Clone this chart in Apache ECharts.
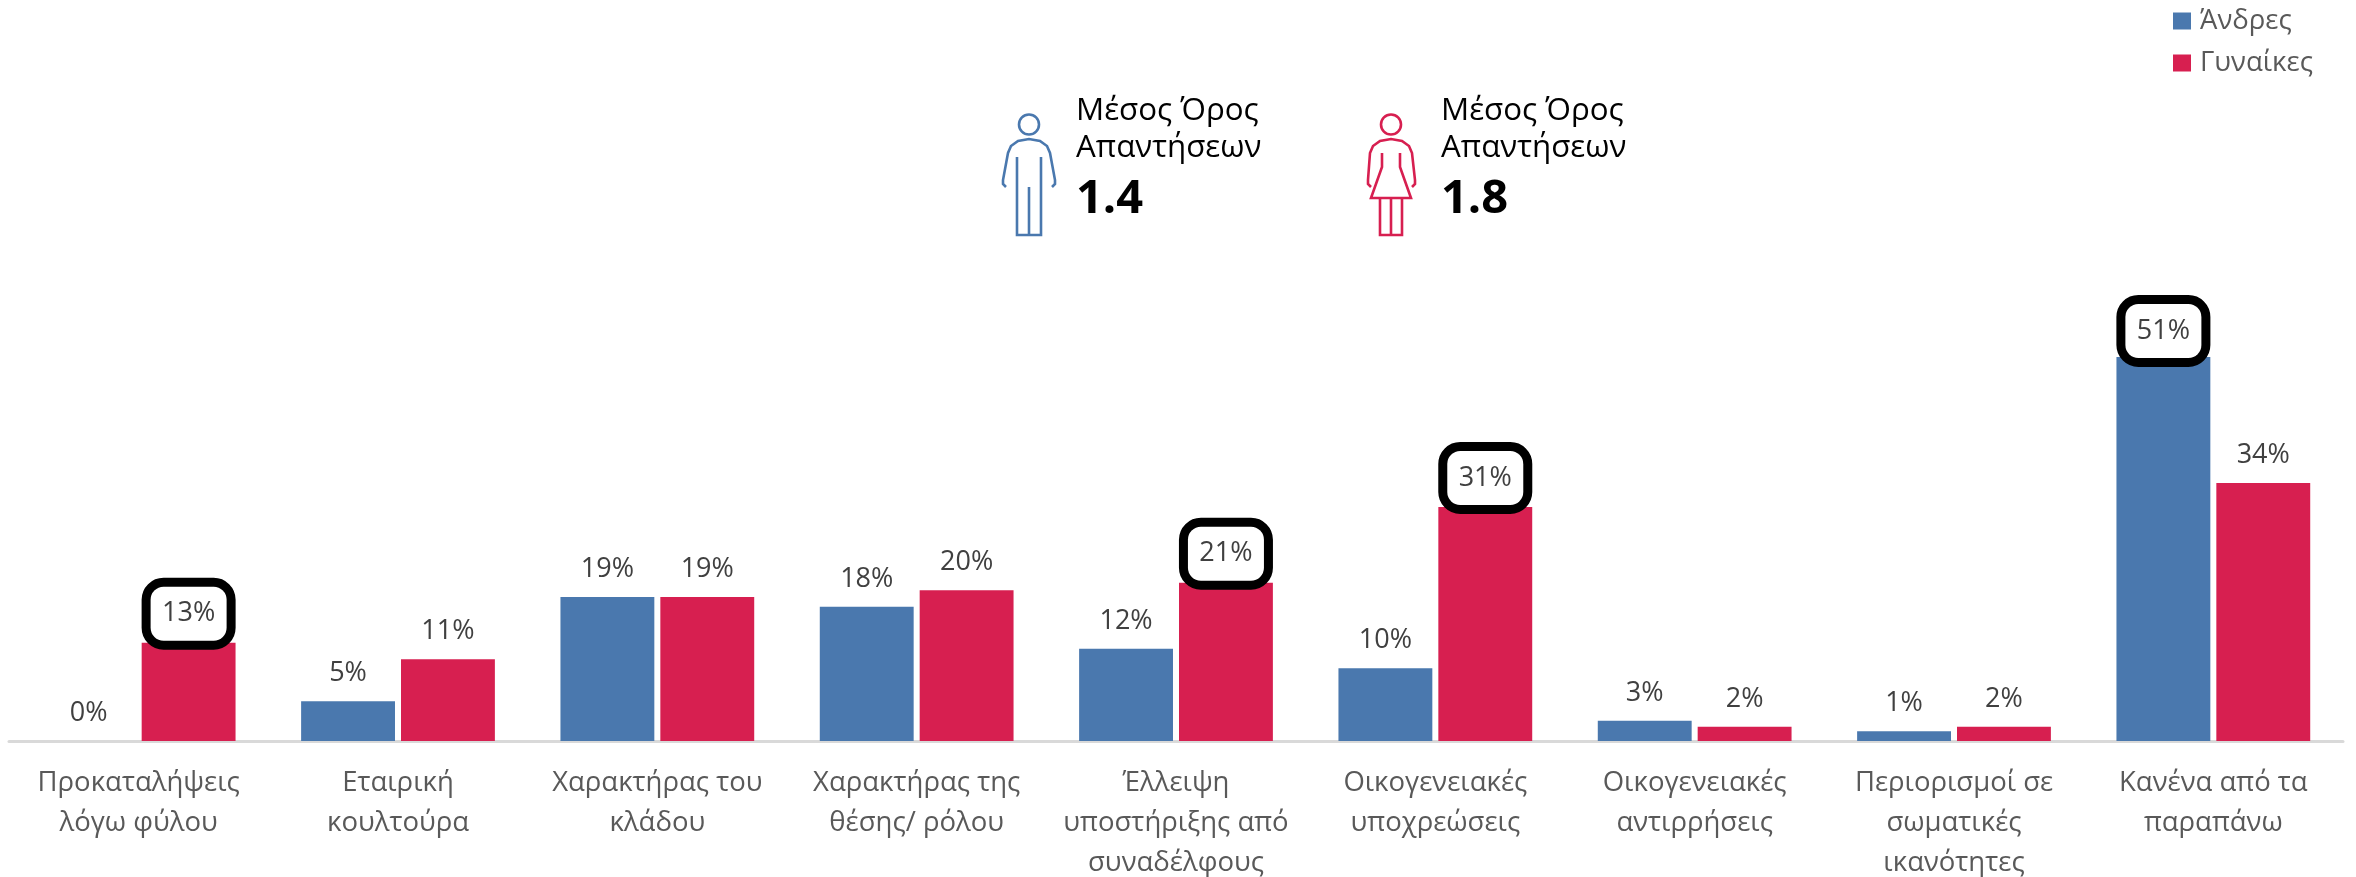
<!DOCTYPE html>
<html><head><meta charset="utf-8">
<style>html,body{margin:0;padding:0;background:#fff}#c{width:2356px;height:877px}</style>
<script src="https://cdn.jsdelivr.net/npm/echarts@6/dist/echarts.min.js"></script>
</head><body><div id="c"></div>
<script>
const categories = ['Προκαταλήψεις\nλόγω φύλου','Εταιρική\nκουλτούρα','Χαρακτήρας του\nκλάδου','Χαρακτήρας της\nθέσης/ ρόλου','Έλλειψη\nυποστήριξης από\nσυναδέλφους','Οικογενειακές\nυποχρεώσεις','Οικογενειακές\nαντιρρήσεις','Περιορισμοί σε\nσωματικές\nικανότητες','Κανένα από τα\nπαραπάνω'];
const men = [0,5.3,19.2,17.9,12.3,9.7,2.7,1.3,51.2];
const women = [13.1,10.9,19.2,20.1,21.1,31.2,1.9,1.9,34.4];
const menHighlighted = [8];
const womenHighlighted = [0,4,5];
const seriesNames = ['Άνδρες','Γυναίκες'];
const avgTitle = 'Μέσος Όρος\nΑπαντήσεων';
const avgMen = '1.4';
const avgWomen = '1.8';

const FONT = '"Open Sans"';
const BLUE = '#4a78ae', RED = '#d71f50', GREY = '#595959', DARK = '#404040';
const boxLabel = d => ({borderColor:'#000',borderWidth:9,borderRadius:13,backgroundColor:'#fff',
  width:76,height:54,lineHeight:54,align:'center',distance:d,color:DARK});
const toData = (vals, hl, d) => vals.map((v,i)=> hl.includes(i) ? {value:v,label:boxLabel(d)} : v);
const barSeries = (name, vals, hl, color, d) => ({
  name, type:'bar', barWidth:'36.2%', barGap:'6.4%', data:toData(vals,hl,d),
  itemStyle:{color},
  label:{show:true,position:'top',distance:14,formatter:p=>Math.round(p.value)+'%',fontFamily:FONT,fontSize:27,color:DARK}
});
const stroke = c => ({fill:'none',stroke:c,lineWidth:2.6});
const poly = (points,c)=>({type:'polyline',shape:{points},style:stroke(c)});
const head = (cx,c)=>({type:'circle',shape:{cx,cy:124.5,r:10},style:stroke(c)});
const manIcon = c => [head(1029,c),
  poly([[1006,187],[1003,184],[1003,180],[1008,153],[1011,146],[1018,141],[1029,139],[1040,141],[1047,146],[1050,153],[1055,180],[1055,184],[1052,187]],c),
  poly([[1017,157],[1017,235],[1041,235],[1041,157]],c),
  poly([[1029,187],[1029,235]],c)];
const womanIcon = c => [head(1391,c),
  poly([[1371,187],[1368,184],[1368,180],[1370,153],[1373,146],[1380,141],[1391,139],[1402,141],[1409,146],[1412,153],[1415,180],[1415,184],[1412,187]],c),
  poly([[1382,153],[1382,167],[1371,198],[1411,198],[1400,167],[1400,153]],c),
  poly([[1380,198],[1380,235],[1402,235],[1402,198]],c),
  poly([[1391,198],[1391,235]],c)];
const txt = (x,y,text,size,weight,lh)=>({type:'text',x,y,style:{text,fontFamily:FONT,fontSize:size,fontWeight:weight,fill:'#000',lineHeight:lh}});

const chart = echarts.init(document.getElementById('c'),null,{renderer:'canvas'});
chart.setOption({
  animation:false,
  backgroundColor:'#fff',
  grid:{left:9,width:2334,top:291,height:450,outerBoundsMode:'none'},
  legend:{orient:'vertical',left:2168,top:2,itemWidth:18,itemHeight:17,itemGap:14,
    icon:'rect',data:seriesNames,textStyle:{fontFamily:FONT,fontSize:27.5,color:GREY,lineHeight:28,padding:[0,0,0,4]}},
  xAxis:{type:'category',data:categories,
    axisLine:{lineStyle:{color:'#d9d9d9',width:3}},axisTick:{show:false},
    axisLabel:{interval:0,fontFamily:FONT,fontSize:27.5,color:GREY,lineHeight:40,margin:22}},
  yAxis:{type:'value',min:0,max:60,show:false,splitLine:{show:false}},
  series:[barSeries(seriesNames[0],men,menHighlighted,BLUE,-1),barSeries(seriesNames[1],women,womenHighlighted,RED,2)],
  graphic:[...manIcon(BLUE),...womanIcon(RED),
    txt(1076,93,avgTitle,31.3,'normal',37),txt(1441,93,avgTitle,31.3,'normal',37),
    txt(1076,171,avgMen,47,'bold',58),txt(1441,171,avgWomen,47,'bold',58)]
});
</script></body></html>
